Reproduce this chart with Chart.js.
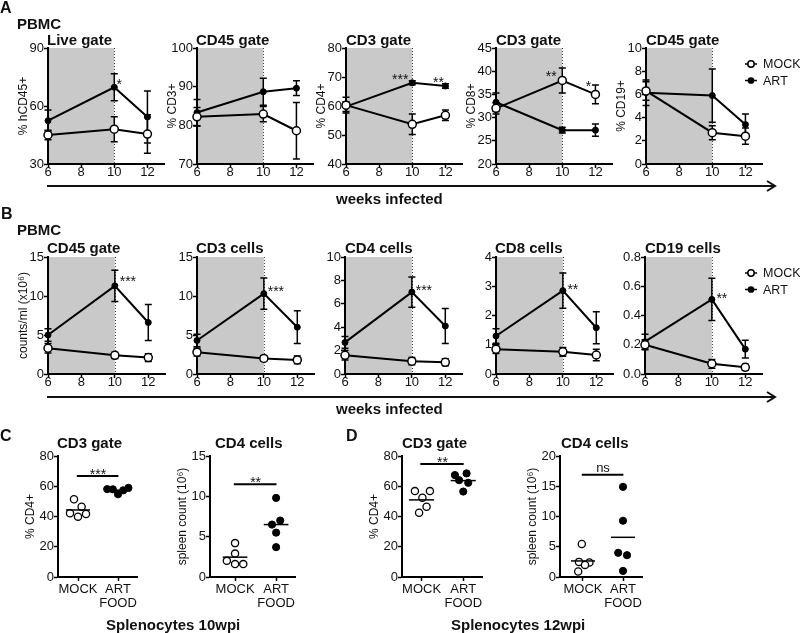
<!DOCTYPE html>
<html>
<head>
<meta charset="utf-8">
<script src="https://cdn.jsdelivr.net/npm/chart.js@4.4.0/dist/chart.umd.min.js"></script>
<style>
body { margin: 0; background: #fff; width: 800px; height: 633px; position: relative; overflow: hidden; font-family: "Liberation Sans", Arial, sans-serif; color: #111; }
canvas { position: absolute; }
.t { position: absolute; font-weight: bold; white-space: nowrap; line-height: 1; font-size: 15px; z-index: 2; }
svg { position: absolute; left: 0; top: 0; z-index: 1; }
</style>
</head>
<body>
<div class="t" style="left:0px;top:0px;font-size:16px">A</div>
<div class="t" style="left:17px;top:16px">PBMC</div>
<div class="t" style="left:47px;top:32px">Live gate</div>
<div class="t" style="left:196px;top:32px">CD45 gate</div>
<div class="t" style="left:346px;top:32px">CD3 gate</div>
<div class="t" style="left:496px;top:32px">CD3 gate</div>
<div class="t" style="left:646px;top:32px">CD45 gate</div>
<div class="t" style="left:336px;top:191px">weeks infected</div>

<div class="t" style="left:1px;top:206px;font-size:16px">B</div>
<div class="t" style="left:17px;top:222px">PBMC</div>
<div class="t" style="left:47px;top:240px">CD45 gate</div>
<div class="t" style="left:196px;top:240px">CD3 cells</div>
<div class="t" style="left:345px;top:240px">CD4 cells</div>
<div class="t" style="left:495px;top:240px">CD8 cells</div>
<div class="t" style="left:645px;top:240px">CD19 cells</div>
<div class="t" style="left:336px;top:401px">weeks infected</div>

<div class="t" style="left:0px;top:428px;font-size:16px">C</div>
<div class="t" style="left:57px;top:435px">CD3 gate</div>
<div class="t" style="left:215px;top:435px">CD4 cells</div>
<div class="t" style="left:106px;top:617px">Splenocytes 10wpi</div>
<div class="t" style="left:346px;top:428px;font-size:16px">D</div>
<div class="t" style="left:402px;top:435px">CD3 gate</div>
<div class="t" style="left:561px;top:435px">CD4 cells</div>
<div class="t" style="left:451px;top:617px">Splenocytes 12wpi</div>

<svg width="800" height="633">
  <g stroke="#111" stroke-width="2" fill="none">
    <line x1="47" y1="186" x2="775" y2="186"/>
    <polyline points="767,181 775,186 767,191"/>
    <line x1="47" y1="397" x2="775" y2="397"/>
    <polyline points="767,392 775,397 767,402"/>
  </g>
</svg>

<script>
// semaines post-infection
const weeks = [6, 10, 12];
const groups = ["MOCK", "ART"];
const groupTicks = ["MOCK", ["ART", "FOOD"]];

// A : pourcentages
const a1Mock = [45, 48, 45.5];
const a1MockErr = [2.5, 6.5, 10];
const a1Art = [52.4, 69.7, 54.3];
const a1ArtErr = [5.5, 7, 13.5];
const a1Stars = ["", "*", ""];

const a2Mock = [82.2, 82.9, 78.6];
const a2MockErr = [2.4, 2, 7.3];
const a2Art = [83.3, 88.7, 89.6];
const a2ArtErr = [3.4, 3.5, 1.9];

const a3Mock = [60.3, 53.7, 56.8];
const a3MockErr = [2.7, 3.5, 1.8];
const a3Art = [59.8, 68, 66.9];
const a3ArtErr = [1.7, 0.7, 0.8];
const a3Stars = ["", "***", "**"];

const a4Mock = [32, 38, 35];
const a4MockErr = [1.2, 2.7, 2];
const a4Art = [33.3, 27.3, 27.3];
const a4ArtErr = [2, 0.6, 1.3];
const a4Stars = ["", "**", "*"];

const a5Mock = [6.3, 2.7, 2.4];
const a5MockErr = [0.8, 0.6, 0.7];
const a5Art = [6.15, 5.9, 3.4];
const a5ArtErr = [1.1, 2.3, 0.9];

// B : counts/ml (x10^6)
const b1Mock = [3.3, 2.4, 2.1];
const b1MockErr = [0.6, 0.4, 0.5];
const b1Art = [5.0, 11.3, 6.6];
const b1ArtErr = [0.8, 2, 2.3];
const b1Stars = ["", "***", ""];

const b2Mock = [2.8, 2.0, 1.8];
const b2MockErr = [0.5, 0.3, 0.5];
const b2Art = [4.3, 10.3, 6.0];
const b2ArtErr = [0.8, 2, 2.1];
const b2Stars = ["", "***", ""];

const b3Mock = [1.6, 1.1, 1.0];
const b3MockErr = [0.4, 0.3, 0.3];
const b3Art = [2.7, 7.0, 4.1];
const b3ArtErr = [0.5, 1.3, 1.5];
const b3Stars = ["", "***", ""];

const b4Mock = [0.85, 0.76, 0.65];
const b4MockErr = [0.15, 0.15, 0.2];
const b4Art = [1.3, 2.85, 1.58];
const b4ArtErr = [0.25, 0.6, 0.55];
const b4Stars = ["", "**", ""];

const b5Mock = [0.2, 0.07, 0.046];
const b5MockErr = [0.035, 0.03, 0.02];
const b5Art = [0.221, 0.51, 0.17];
const b5ArtErr = [0.05, 0.145, 0.06];
const b5Stars = ["", "**", ""];

// C / D : splenocytes (5 souris par groupe, dx = decalage horizontal)
const c1Mock = [51.4, 46.5, 42.1, 39.9, 41.7];
const c1MockDx = [-0.1, 0.09, -0.2, 0, 0.2];
const c1Art = [58.1, 58, 54.7, 57.3, 58.9];
const c1ArtDx = [-0.27, -0.13, 0, 0.13, 0.26];

const c2Mock = [4.2, 2.9, 2.0, 1.6, 1.6];
const c2MockDx = [0, 0, -0.2, 0, 0.2];
const c2Art = [9.8, 7.0, 6.5, 5.5, 3.7];
const c2ArtDx = [0, 0.1, -0.1, 0, 0];

const d1Mock = [56.8, 56.8, 52.4, 46.4, 42.5];
const d1MockDx = [-0.16, 0.2, 0.02, 0.12, -0.06];
const d1Art = [67.4, 68.5, 64, 62.3, 56.5];
const d1ArtDx = [-0.2, 0.08, -0.1, 0.12, 0];

const d2Mock = [5.45, 2.5, 2.4, 2.0, 0.9];
const d2MockDx = [-0.03, -0.1, 0.16, 0.05, -0.12];
const d2Art = [14.9, 9.3, 4.0, 3.6, 1.0];
const d2ArtDx = [0, 0, -0.12, 0.1, 0];

const fontFam = '"Liberation Sans", Arial, Helvetica, sans-serif';
Chart.defaults.font.family = fontFam;
Chart.defaults.color = "#111";

function addCanvas(id, left, top, w, h) {
  let c = document.createElement("canvas");
  c.setAttribute("id", id);
  c.setAttribute("width", w);
  c.setAttribute("height", h);
  c.style.left = left + "px";
  c.style.top = top + "px";
  document.body.appendChild(c);
  return c.getContext("2d");
}

// zone grise = periode sous traitement
const shadePlugin = {
  id: "shade",
  beforeDraw(chart, args, opts) {
    const { ctx, chartArea, scales } = chart;
    const x0 = scales.x.getPixelForValue(opts.from);
    const x1 = scales.x.getPixelForValue(opts.to);
    ctx.save();
    ctx.fillStyle = "#c9c9c9";
    ctx.fillRect(x0, chartArea.top, x1 - x0, chartArea.bottom - chartArea.top);
    ctx.restore();
  },
  beforeDatasetsDraw(chart, args, opts) {
    const { ctx, chartArea, scales } = chart;
    const x1 = Math.round(scales.x.getPixelForValue(opts.to)) + 0.5;
    ctx.save();
    ctx.strokeStyle = "#444";
    ctx.lineWidth = 1;
    ctx.setLineDash([1, 2]);
    ctx.beginPath();
    ctx.moveTo(x1, chartArea.top);
    ctx.lineTo(x1, chartArea.bottom);
    ctx.stroke();
    ctx.restore();
  },
};

// barres d'erreur (SEM)
const errPlugin = {
  id: "errbars",
  beforeDatasetsDraw(chart) {
    const { ctx, scales } = chart;
    ctx.save();
    ctx.strokeStyle = "#000";
    ctx.lineWidth = 1.5;
    chart.data.datasets.forEach((ds) => {
      if (!ds.errs) return;
      ds.data.forEach((p, i) => {
        const x = scales.x.getPixelForValue(p.x);
        const yHi = scales.y.getPixelForValue(p.y + ds.errs[i]);
        const yLo = scales.y.getPixelForValue(p.y - ds.errs[i]);
        ctx.beginPath();
        ctx.moveTo(x, yHi); ctx.lineTo(x, yLo);
        ctx.moveTo(x - 3.5, yHi); ctx.lineTo(x + 3.5, yHi);
        ctx.moveTo(x - 3.5, yLo); ctx.lineTo(x + 3.5, yLo);
        ctx.stroke();
      });
    });
    ctx.restore();
  },
};

const starPlugin = {
  id: "stars",
  afterDatasetsDraw(chart, args, opts) {
    const { ctx } = chart;
    ctx.save();
    ctx.fillStyle = "#111";
    ctx.font = "14px " + fontFam;
    ctx.textAlign = "center";
    ctx.textBaseline = "alphabetic";
    (opts.list || []).forEach((s) => {
      const pt = chart.getDatasetMeta(s.ds).data[s.i];
      ctx.fillText(s.text, pt.x + s.dx, pt.y + s.dy + 8);
    });
    ctx.restore();
  },
};

const keyPlugin = {
  id: "keyBox",
  afterDraw(chart, args, opts) {
    if (!opts.on) return;
    const { ctx, chartArea } = chart;
    const x = chartArea.right - 11;
    ctx.save();
    chart.data.datasets.forEach((ds, k) => {
      const y = chartArea.top + 16 + k * 16.5;
      ctx.strokeStyle = "#000";
      ctx.lineWidth = 1.5;
      ctx.beginPath();
      ctx.moveTo(x - 6, y); ctx.lineTo(x + 6, y);
      ctx.stroke();
      ctx.beginPath();
      ctx.arc(x, y, k === 0 ? 3.2 : 2.6, 0, Math.PI * 2);
      ctx.fillStyle = k === 0 ? "#fff" : "#000";
      ctx.fill();
      ctx.stroke();
      ctx.fillStyle = "#111";
      ctx.font = "12.5px " + fontFam;
      ctx.textAlign = "left";
      ctx.textBaseline = "middle";
      ctx.fillText(ds.label, x + 12, y + 1);
    });
    ctx.restore();
  },
};

// moyenne + barre de significativite
const dotPlugin = {
  id: "dotMarks",
  afterDatasetsDraw(chart, args, opts) {
    const { ctx, scales } = chart;
    ctx.save();
    ctx.strokeStyle = "#000";
    ctx.lineWidth = 1.5;
    chart.data.datasets.forEach((ds, k) => {
      const vals = ds.data.map((p) => p.y);
      const m = vals.reduce((a, b) => a + b, 0) / vals.length;
      const y = scales.y.getPixelForValue(m);
      ctx.beginPath();
      ctx.moveTo(scales.x.getPixelForValue(k + 0.7), y);
      ctx.lineTo(scales.x.getPixelForValue(k + 1.3), y);
      ctx.stroke();
    });
    const s = opts.sig;
    const y = scales.y.getPixelForValue(s.y);
    ctx.lineWidth = 2;
    ctx.beginPath();
    ctx.moveTo(scales.x.getPixelForValue(0.97), y);
    ctx.lineTo(scales.x.getPixelForValue(2.01), y);
    ctx.stroke();
    ctx.fillStyle = "#111";
    ctx.textAlign = "center";
    ctx.textBaseline = "alphabetic";
    const xm = scales.x.getPixelForValue(1.5);
    if (s.text === "ns") {
      ctx.font = "13px " + fontFam;
      ctx.fillText(s.text, xm, y - 2.5);
    } else {
      ctx.font = "14px " + fontFam;
      ctx.fillText(s.text, xm, y + 3);
    }
    ctx.restore();
  },
};

function starMarks(stars, ds, place) {
  let out = [];
  stars.forEach((t, i) => {
    if (t) out.push({ ds: ds, i: i, text: t, dx: place[i][0], dy: place[i][1] });
  });
  return out;
}

function axisY(min, max, step, title, w, fmt, titlePad) {
  return {
    type: "linear",
    min: min, max: max,
    afterFit: (s) => { s.width = w; },
    ticks: {
      stepSize: step, padding: 0, color: "#111",
      font: { size: 13 },
      callback: fmt || ((v) => v),
    },
    grid: { drawOnChartArea: false, drawTicks: true, tickLength: 4, tickColor: "#000", tickWidth: 1.5 },
    border: { display: true, color: "#000", width: 2 },
    title: {
      display: !!title, text: title, color: "#111",
      font: { size: 12 }, padding: { top: titlePad, bottom: 0 },
    },
  };
}

function lineChart(id, left, top, w, h, y, mock, mockErr, art, artErr, stars, legend) {
  const yW = 36, xH = 22, padTop = 8;
  const padRight = legend ? 800 - (left + w) : 6;
  const ctx = addCanvas(id, left - yW, top - padTop, yW + w + padRight, padTop + h + xH);
  return new Chart(ctx, {
    type: "line",
    data: {
      datasets: [
        {
          label: groups[0],
          data: weeks.map((wk, i) => ({ x: wk, y: mock[i] })),
          errs: mockErr,
          borderColor: "#000", borderWidth: 2,
          pointRadius: 4, pointBackgroundColor: "#fff",
          pointBorderColor: "#000", pointBorderWidth: 1.5,
          clip: false,
        },
        {
          label: groups[1],
          data: weeks.map((wk, i) => ({ x: wk, y: art[i] })),
          errs: artErr,
          borderColor: "#000", borderWidth: 2,
          pointRadius: 3, pointBackgroundColor: "#000",
          pointBorderColor: "#000", pointBorderWidth: 1,
          clip: false,
        },
      ],
    },
    options: {
      responsive: false,
      animation: false,
      layout: { padding: { top: padTop, right: padRight, left: 0, bottom: 0 } },
      plugins: {
        legend: { display: false },
        tooltip: { enabled: false },
        shade: { from: 6, to: 10 },
        stars: { list: stars },
        keyBox: { on: legend },
      },
      scales: {
        x: {
          type: "linear", min: 6, max: 13,
          afterFit: (s) => { s.height = xH; },
          ticks: { stepSize: 2, includeBounds: false, padding: -3, color: "#111", font: { size: 13 } },
          grid: { drawOnChartArea: false, drawTicks: true, tickLength: 4, tickColor: "#000", tickWidth: 1.5 },
          border: { display: true, color: "#000", width: 2 },
        },
        y: axisY(y[0], y[1], y[2], y[3], yW, y[4], 4),
      },
    },
    plugins: [shadePlugin, errPlugin, starPlugin, keyPlugin],
  });
}

function dotChart(id, left, top, w, h, xr, y, mock, mockDx, art, artDx, sig) {
  const yW = 38, xH = 36, padTop = 8, padRight = 8;
  const ctx = addCanvas(id, left - yW, top - padTop, yW + w + padRight, padTop + h + xH);
  return new Chart(ctx, {
    type: "scatter",
    data: {
      datasets: [
        {
          label: groups[0],
          data: mock.map((v, i) => ({ x: 1 + mockDx[i], y: v })),
          pointRadius: 3.6, pointBackgroundColor: "#fff",
          pointBorderColor: "#000", pointBorderWidth: 1.3,
          clip: false,
        },
        {
          label: groups[1],
          data: art.map((v, i) => ({ x: 2 + artDx[i], y: v })),
          pointRadius: 3.6, pointBackgroundColor: "#000",
          pointBorderColor: "#000", pointBorderWidth: 1,
          clip: false,
        },
      ],
    },
    options: {
      responsive: false,
      animation: false,
      layout: { padding: { top: padTop, right: padRight, left: 0, bottom: 0 } },
      plugins: {
        legend: { display: false },
        tooltip: { enabled: false },
        dotMarks: { sig: sig },
      },
      scales: {
        x: {
          type: "linear", min: xr[0], max: xr[1],
          afterFit: (s) => { s.height = xH; },
          afterBuildTicks: (s) => { s.ticks = [{ value: 1 }, { value: 2 }]; },
          ticks: {
            padding: 1, color: "#111",
            font: { size: 13, lineHeight: 1.08 },
            callback: (v) => groupTicks[Math.round(v) - 1],
          },
          grid: { drawOnChartArea: false, drawTicks: true, tickLength: 4, tickColor: "#000", tickWidth: 1.5 },
          border: { display: true, color: "#000", width: 2 },
        },
        y: axisY(y[0], y[1], y[2], y[3], yW, null, 3),
      },
    },
    plugins: [dotPlugin],
  });
}

// Graphiques A
const chartA1 = lineChart("a1", 48, 48, 116, 116, [30, 90, 30, "% hCD45+"], a1Mock, a1MockErr, a1Art, a1ArtErr,
  starMarks(a1Stars, 1, { 1: [5, -6] }), false);
const chartA2 = lineChart("a2", 197, 48, 116, 116, [70, 100, 10, "% CD3+"], a2Mock, a2MockErr, a2Art, a2ArtErr, [], false);
const chartA3 = lineChart("a3", 346, 48, 116, 116, [40, 80, 10, "% CD4+"], a3Mock, a3MockErr, a3Art, a3ArtErr,
  starMarks(a3Stars, 1, { 1: [-12, -7], 2: [-7, -7] }), false);
const chartA4 = lineChart("a4", 496, 48, 116, 116, [20, 45, 5, "% CD8+"], a4Mock, a4MockErr, a4Art, a4ArtErr,
  starMarks(a4Stars, 0, { 1: [-11, -7], 2: [-7, -11] }), false);
const chartA5 = lineChart("a5", 646, 48, 116, 116, [0, 10, 2, "% CD19+"], a5Mock, a5MockErr, a5Art, a5ArtErr, [], true);

// Graphiques B
const chartB1 = lineChart("b1", 48, 257, 117, 117, [0, 15, 5, "counts/ml (x10\u2076)"], b1Mock, b1MockErr, b1Art, b1ArtErr,
  starMarks(b1Stars, 1, { 1: [13, -8] }), false);
const chartB2 = lineChart("b2", 197, 257, 117, 117, [0, 15, 5, ""], b2Mock, b2MockErr, b2Art, b2ArtErr,
  starMarks(b2Stars, 1, { 1: [12, -6] }), false);
const chartB3 = lineChart("b3", 345, 257, 117, 117, [0, 10, 2, ""], b3Mock, b3MockErr, b3Art, b3ArtErr,
  starMarks(b3Stars, 1, { 1: [12, -5] }), false);
const chartB4 = lineChart("b4", 496, 257, 117, 117, [0, 4, 1, ""], b4Mock, b4MockErr, b4Art, b4ArtErr,
  starMarks(b4Stars, 1, { 1: [10, -5] }), false);
const chartB5 = lineChart("b5", 645, 257, 117, 117, [0, 0.8, 0.2, "", (v) => v.toFixed(1)], b5Mock, b5MockErr, b5Art, b5ArtErr,
  starMarks(b5Stars, 1, { 1: [10, -4] }), true);

// Graphiques C et D
const chartC1 = dotChart("c1", 58, 456, 79, 121, [0.5, 2.475], [0, 80, 20, "% CD4+"], c1Mock, c1MockDx, c1Art, c1ArtDx, { y: 66.8, text: "***" });
const chartC2 = dotChart("c2", 210, 456, 85, 121, [0.39, 2.46], [0, 15, 5, "spleen count (10\u2076)"], c2Mock, c2MockDx, c2Art, c2ArtDx, { y: 11.5, text: "**" });
const chartD1 = dotChart("d1", 402, 456, 80, 121, [0.53, 2.45], [0, 80, 20, "% CD4+"], d1Mock, d1MockDx, d1Art, d1ArtDx, { y: 74.7, text: "**" });
const chartD2 = dotChart("d2", 560, 456, 82, 121, [0.425, 2.475], [0, 20, 5, "spleen count (10\u2076)"], d2Mock, d2MockDx, d2Art, d2ArtDx, { y: 16.9, text: "ns" });
</script>
</body>
</html>
